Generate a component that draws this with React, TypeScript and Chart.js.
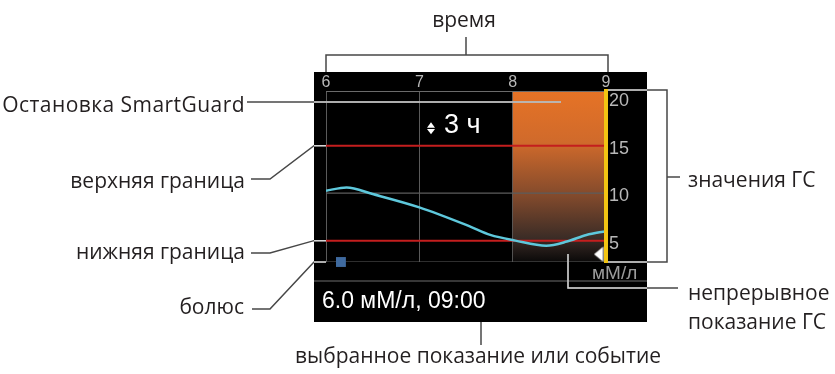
import React, { useEffect, useRef } from 'react';
import { Chart, registerables } from 'chart.js';

Chart.register(...registerables);

// ---------- data ----------
const timeRange = [6, 9];
const timeTicks = [6, 7, 8, 9];
const glucoseRange = [2.75, 20.75];
const glucoseTicks = [5, 10, 15, 20];
const cgmTimes = [6.0, 6.22, 6.5, 7.0, 7.54, 7.76, 8.03, 8.36, 8.58, 8.79, 9.0];
const cgmValues = [10.25, 10.6, 9.9, 8.5, 6.5, 5.6, 5.0, 4.47, 4.9, 5.6, 6.0];
const upperLimit = 15;
const lowerLimit = 5;
const midLevel = 10;
const bolusTimes = [6.16];
const suspendTimes = [8, 9];
const currentTimes = [8.92];
const currentValues = [3.57];
const selectedReading = '6.0 мМ/л, 09:00';
const zoomLabel = '3 ч';
const unitLabel = 'мМ/л';

// ---------- styles ----------
const W = 835;
const H = 374;
const SCREEN = { x: 314, y: 72, w: 333, h: 250 };
const DARK = '#474747';
const LIGHT = '#d6d6d6';
const TEXT = '#231f20';
const OPEN = '"Open Sans", "Noto Sans", sans-serif';
const SANS = '"Liberation Sans", Arial, sans-serif';

type Lbl = { text: string; x: number; base: number; align: 'left' | 'right' | 'center'; fam: string; size: number; color: string; k: number; ls?: number };

const labels: Lbl[] = [
  { text: 'время', x: 464, base: 28, align: 'center', fam: OPEN, size: 21, color: TEXT, k: 0.888 },
  { text: 'Остановка SmartGuard', x: 245, base: 113, align: 'right', fam: OPEN, size: 21, color: TEXT, k: 0.888, ls: 0.45 },
  { text: 'верхняя граница', x: 245, base: 189, align: 'right', fam: OPEN, size: 21, color: TEXT, k: 0.888 },
  { text: 'нижняя граница', x: 245, base: 260, align: 'right', fam: OPEN, size: 21, color: TEXT, k: 0.888 },
  { text: 'болюс', x: 244, base: 315, align: 'right', fam: OPEN, size: 21, color: TEXT, k: 0.888 },
  { text: 'значения ГС', x: 688, base: 188, align: 'left', fam: OPEN, size: 21, color: TEXT, k: 0.888 },
  { text: 'непрерывное', x: 688, base: 301, align: 'left', fam: OPEN, size: 21, color: TEXT, k: 0.888 },
  { text: 'показание ГС', x: 688, base: 330, align: 'left', fam: OPEN, size: 21, color: TEXT, k: 0.888 },
  { text: 'выбранное показание или событие', x: 478, base: 364, align: 'center', fam: OPEN, size: 21, color: TEXT, k: 0.888 },
  { text: zoomLabel, x: 444, base: 134, align: 'left', fam: SANS, size: 27, color: '#ffffff', k: 0.8465 },
  { text: selectedReading, x: 322, base: 308, align: 'left', fam: SANS, size: 23, color: '#ffffff', k: 0.8465 },
  { text: unitLabel, x: 592, base: 279, align: 'left', fam: SANS, size: 19, color: '#9c9c9c', k: 0.8465 },
];

function Label({ l }: { l: Lbl }) {
  const style: React.CSSProperties = {
    position: 'absolute',
    top: l.base - l.k * l.size,
    fontFamily: l.fam,
    fontSize: l.size,
    lineHeight: `${l.size}px`,
    color: l.color,
    whiteSpace: 'nowrap',
    letterSpacing: l.ls ? `${l.ls}px` : undefined,
  };
  if (l.align === 'left') style.left = l.x;
  else if (l.align === 'right') {
    style.right = W - l.x;
    style.textAlign = 'right';
  } else {
    style.left = l.x;
    style.transform = 'translateX(-50%)';
  }
  return <div style={style}>{l.text}</div>;
}

const screenPlugin = {
  id: 'screen',
  beforeDraw(chart: any) {
    const c = chart.ctx;
    c.save();
    c.fillStyle = '#000';
    c.fillRect(SCREEN.x, SCREEN.y, SCREEN.w, SCREEN.h);
    c.strokeStyle = '#6e6e6e';
    c.lineWidth = 1;
    c.beginPath();
    c.moveTo(SCREEN.x, 281);
    c.lineTo(SCREEN.x + SCREEN.w, 281);
    c.stroke();
    c.restore();
  },
  afterDraw(chart: any) {
    const c = chart.ctx;
    const xs = chart.scales.x;
    const ys = chart.scales.y;
    const x6 = xs.getPixelForValue(timeRange[0]);
    const x9 = xs.getPixelForValue(timeRange[1]) + 2;
    const yHi = ys.getPixelForValue(upperLimit);
    const yLo = ys.getPixelForValue(lowerLimit);
    const yBot = ys.getPixelForValue(glucoseRange[0]);
    const yTop = ys.getPixelForValue(glucoseRange[1]) - 1;
    const paths: number[][][] = [
      [[466, 37], [466, 55]],
      [[x6, 72], [x6, 55], [x9, 55], [x9, 72]],
      [[247, 102], [561, 102]],
      [[251, 179], [270, 179], [314, yHi], [x6, yHi]],
      [[251, 253], [270, 253], [314, yLo], [x6, yLo]],
      [[252, 309], [270, 309], [314, yBot], [x6, yBot]],
      [[x9, yTop], [667, yTop], [667, yBot], [x9, yBot]],
      [[667, 177], [680, 177]],
      [[568, 254], [568, 288], [678, 288]],
      [[481, 322], [481, 345]],
    ];
    const stroke = (color: string) => {
      c.strokeStyle = color;
      c.lineWidth = 1.5;
      for (const p of paths) {
        c.beginPath();
        c.moveTo(p[0][0], p[0][1]);
        for (let i = 1; i < p.length; i++) c.lineTo(p[i][0], p[i][1]);
        c.stroke();
      }
    };
    c.save();
    stroke(DARK);
    c.beginPath();
    c.rect(SCREEN.x, SCREEN.y, SCREEN.w, SCREEN.h);
    c.clip();
    stroke(LIGHT);
    c.restore();
    // up/down arrows next to the zoom label
    c.save();
    c.fillStyle = '#fff';
    c.beginPath();
    c.moveTo(427, 127.7);
    c.lineTo(435, 127.7);
    c.lineTo(431, 122.3);
    c.closePath();
    c.fill();
    c.beginPath();
    c.moveTo(427, 129);
    c.lineTo(435, 129);
    c.lineTo(431, 134.3);
    c.closePath();
    c.fill();
    c.restore();
  },
};

export default function App() {
  const ref = useRef<HTMLCanvasElement | null>(null);
  useEffect(() => {
    const canvas = ref.current;
    if (!canvas) return;
    const tri = document.createElement('canvas');
    tri.width = 10;
    tri.height = 16;
    const tc = tri.getContext('2d')!;
    tc.fillStyle = '#ffffff';
    tc.beginPath();
    tc.moveTo(0.5, 8);
    tc.lineTo(9.5, 0.5);
    tc.lineTo(9.5, 15.5);
    tc.closePath();
    tc.fill();

    const gradient = (ctx: any) => {
      const a = ctx.chart.chartArea;
      if (!a) return '#e67326';
      const g = ctx.chart.ctx.createLinearGradient(0, a.top, 0, a.bottom);
      g.addColorStop(0, '#e67326');
      g.addColorStop(0.3, '#d06a2b');
      g.addColorStop(0.62, '#80492c');
      g.addColorStop(0.86, '#3b2c26');
      g.addColorStop(1, '#0a0909');
      return g;
    };

    const chart = new Chart(canvas, {
      type: 'line',
      data: {
        datasets: [
          {
            type: 'scatter',
            label: 'болюс',
            data: bolusTimes.map((t) => ({ x: t, y: glucoseRange[0] })),
            pointStyle: 'rect',
            pointRadius: 7,
            backgroundColor: '#3f6a9f',
            borderWidth: 0,
            clip: false,
            order: 0,
          } as any,
          {
            type: 'scatter',
            label: 'текущее',
            data: currentTimes.map((t, i) => ({ x: t, y: currentValues[i] })),
            pointStyle: tri,
            pointRadius: 8,
            clip: false,
            order: 0,
          } as any,
          {
            label: 'ГС',
            data: cgmTimes.map((t, i) => ({ x: t, y: cgmValues[i] })),
            borderColor: '#5ec8dc',
            borderWidth: 2.5,
            pointRadius: 0,
            cubicInterpolationMode: 'monotone',
            fill: false,
            order: 1,
          },
          {
            label: 'верхняя',
            data: timeRange.map((t) => ({ x: t, y: upperLimit })),
            borderColor: '#c41e1e',
            borderWidth: 2,
            pointRadius: 0,
            fill: false,
            order: 2,
          },
          {
            label: 'нижняя',
            data: timeRange.map((t) => ({ x: t, y: lowerLimit })),
            borderColor: '#c41e1e',
            borderWidth: 2,
            pointRadius: 0,
            fill: false,
            order: 2,
          },
          {
            label: 'сетка10',
            data: timeRange.map((t) => ({ x: t, y: midLevel })),
            borderColor: '#5c5c5c',
            borderWidth: 1.2,
            pointRadius: 0,
            fill: false,
            order: 3,
          },
          {
            label: 'низ',
            data: timeRange.map((t) => ({ x: t, y: glucoseRange[0] })),
            borderColor: '#5c5c5c',
            borderWidth: 1.2,
            pointRadius: 0,
            fill: false,
            order: 3,
          },
          {
            label: 'остановка',
            data: suspendTimes.map((t) => ({ x: t, y: glucoseRange[1] })),
            borderWidth: 0,
            borderColor: 'rgba(0,0,0,0)',
            pointRadius: 0,
            fill: 'start',
            backgroundColor: gradient,
            order: 5,
          } as any,
        ],
      },
      options: {
        responsive: false,
        animation: false,
        devicePixelRatio: 1,
        layout: { padding: { left: 326, top: 72, right: 188, bottom: 112 } },
        plugins: { legend: { display: false }, tooltip: { enabled: false } },
        events: [],
        scales: {
          x: {
            type: 'linear',
            position: 'top',
            min: timeRange[0],
            max: timeRange[1],
            afterBuildTicks: (s: any) => {
              s.ticks = timeTicks.map((v) => ({ value: v }));
            },
            afterFit: (s: any) => {
              s.height = 19;
            },
            grid: { color: '#5a5a5a', lineWidth: 1, drawTicks: false },
            border: { display: true, color: '#6a6a6a', width: 1, z: 1 },
            ticks: {
              color: '#b8b8b8',
              font: { family: 'Liberation Sans', size: 16, lineHeight: 1 },
              padding: 0,
              maxRotation: 0,
              autoSkip: false,
              callback: (v: any) => String(v),
            },
          },
          y: {
            type: 'linear',
            position: 'right',
            min: glucoseRange[0],
            max: glucoseRange[1],
            afterBuildTicks: (s: any) => {
              s.ticks = glucoseTicks.map((v) => ({ value: v }));
            },
            afterFit: (s: any) => {
              s.width = 41;
            },
            grid: { display: false, drawTicks: false },
            border: { display: true, color: '#f2c413', width: 4, z: 1 },
            ticks: {
              color: '#b8b8b8',
              font: { family: 'Liberation Sans', size: 18 },
              padding: 3,
              labelOffset: 3,
              callback: (v: any) => String(v),
            },
          },
        },
      },
      plugins: [screenPlugin],
    } as any);
    return () => chart.destroy();
  }, []);

  return (
    <div style={{ position: 'fixed', left: 0, top: 0, width: W, height: H, background: '#fff', overflow: 'hidden' }}>
      <canvas ref={ref} width={W} height={H} style={{ position: 'absolute', left: 0, top: 0 }} />
      {labels.map((l, i) => (
        <Label key={i} l={l} />
      ))}
    </div>
  );
}
